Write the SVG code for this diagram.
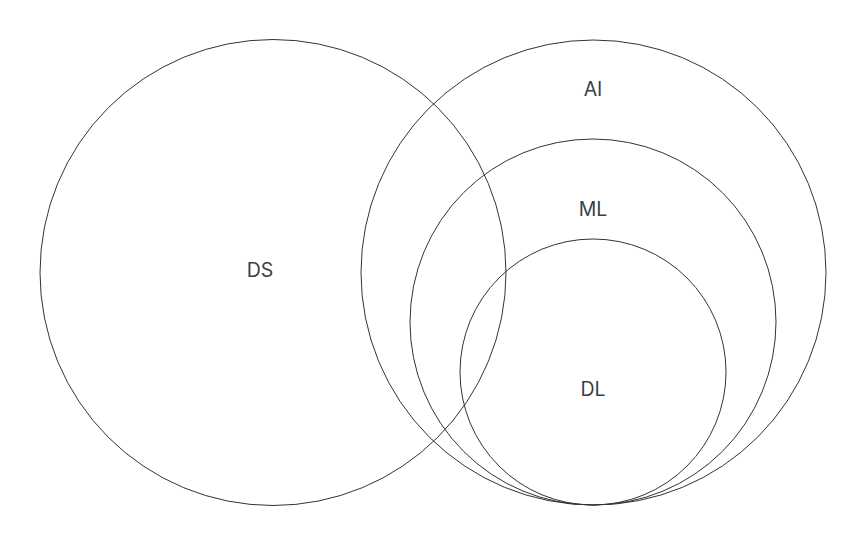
<svg xmlns="http://www.w3.org/2000/svg" width="866" height="545" viewBox="0 0 866 545">
<style>
.c{fill:none;stroke:#333;stroke-width:1}
.t{font-family:Inter,"Liberation Sans",sans-serif;font-size:19.5px;fill:#3a3f47;text-anchor:middle}
</style>
<rect width="866" height="545" fill="#fff"/>
<g id="DS"><circle class="c" cx="273" cy="272.5" r="233"/><text class="t" x="260" y="277">DS</text></g>
<g id="AI"><circle class="c" cx="593.5" cy="272.5" r="232.5"/><text class="t" x="593" y="96">AI</text></g>
<g id="ML"><circle class="c" cx="593" cy="322" r="183"/><text class="t" x="593" y="216">ML</text></g>
<g id="DL"><circle class="c" cx="593" cy="372" r="133"/><text class="t" x="593" y="396">DL</text></g>
<g id="connectors"></g>
</svg>
